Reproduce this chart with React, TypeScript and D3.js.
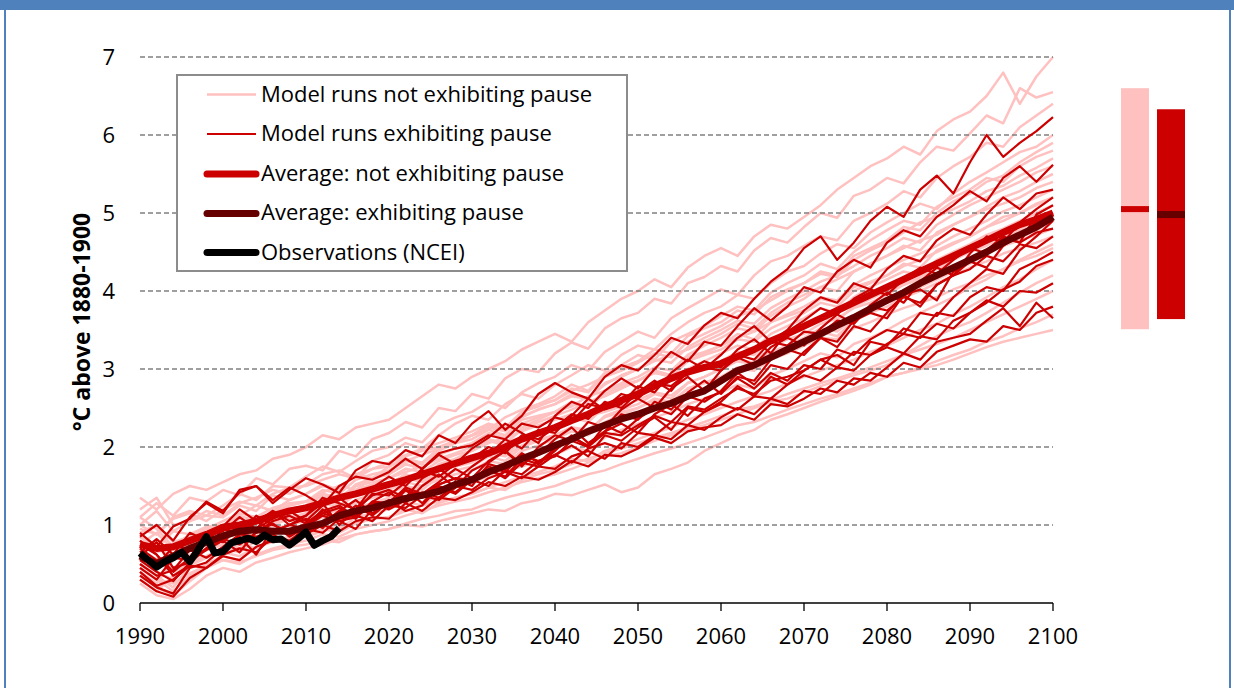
import React from "react";
import * as d3 from "d3";

// Years of the model runs (every 2nd year) and of the observations
const runYears: number[] = d3.range(1990, 2101, 2);
const obsYears: number[] = d3.range(1990, 2015);
const xTickValues = [1990, 2000, 2010, 2020, 2030, 2040, 2050, 2060, 2070, 2080, 2090, 2100];
const yTickValues = [0, 1, 2, 3, 4, 5, 6, 7];

// Values below are in hundredths of a °C above 1880-1900
const runsNotPause: number[][] = [
  [135,120,140,150,145, 155,165,170,185,190, 200,215,210,225,230, 235,250,265,280,275, 290,300,310,325,335, 345,335,360,375,390, 400,415,405,430,445, 455,445,470,485,480, 495,510,530,545,560, 570,585,575,605,620, 630,650,680,640,675, 700],
  [110,128,112,135,130, 145,138,160,152,172, 176,170,195,188,210, 218,232,225,250,246, 268,262,288,300,296, 320,334,326,352,365, 372,390,384,410,418, 432,425,452,468,462, 482,500,494,522,530, 545,538,565,585,580, 602,625,615,660,648, 655],
  [95,88,110,118,112, 125,140,132,150,148, 162,175,168,182,195, 200,212,206,228,238, 245,258,250,270,282, 290,305,298,322,335, 348,340,365,378,390, 402,395,420,438,445, 458,470,465,490,500, 512,528,520,545,560, 572,590,585,610,625, 640],
  [120,135,100,105,118, 112,128,135,145,140, 152,165,170,160,182, 190,205,198,215,230, 240,235,255,268,262, 280,292,305,298,318, 330,325,345,360,372, 380,395,390,410,425, 432,448,460,455,475, 488,500,512,505,525, 540,552,565,578,585, 600],
  [60,45,70,82,75, 90,98,105,112,120, 125,140,132,150,160, 165,178,172,195,205, 215,222,238,248,255, 265,280,272,295,305, 318,312,335,345,355, 368,380,375,398,410, 420,435,428,450,465, 478,490,485,508,520, 530,545,540,560,572, 580],
  [85,70,92,88,95, 100,112,125,118,132, 140,150,145,165,172, 180,190,198,205,212, 220,230,225,245,255, 260,272,280,290,298, 308,320,315,335,345, 355,368,375,388,400, 410,422,418,440,452, 462,475,488,495,505, 515,528,535,548,558, 570],
  [40,25,55,62,68, 75,85,92,100,110, 115,128,122,140,145, 152,165,158,178,185, 195,208,202,225,235, 245,252,265,272,282, 290,302,298,318,330, 340,352,348,368,380, 390,405,400,425,435, 445,458,452,475,485, 495,508,520,528,540, 550],
  [100,88,108,115,105, 120,130,125,140,148, 150,158,165,160,172, 175,188,195,200,208, 215,228,222,240,248, 255,265,262,280,292, 300,310,318,325,335, 345,358,352,372,385, 395,405,415,425,435, 445,455,465,472,485, 495,505,512,520,532, 540],
  [70,55,60,75,80, 85,95,105,100,115, 120,128,138,145,152, 160,168,175,185,192, 200,210,205,222,232, 240,248,258,265,275, 285,295,290,310,320, 330,340,348,360,370, 380,392,388,408,420, 430,440,448,458,470, 480,490,502,510,520, 530],
  [50,35,20,48,70, 95,88,105,118,125, 130,142,150,145,160, 165,178,172,190,198, 205,218,212,230,238, 245,255,250,268,278, 285,295,292,310,318, 325,338,335,352,362, 372,385,380,400,410, 420,432,440,450,460, 470,482,490,500,510, 520],
  [80,65,72,60,75, 80,92,85,100,108, 110,122,118,132,140, 145,155,150,170,178, 185,195,190,210,218, 225,238,232,252,262, 272,282,290,300,310, 320,330,325,345,355, 365,378,372,392,405, 415,425,420,440,450, 460,472,480,490,500, 510],
  [65,50,45,55,68, 75,70,85,95,100, 105,112,120,128,135, 140,150,145,162,170, 175,188,182,200,208, 215,225,220,240,248, 255,268,262,282,290, 300,312,308,328,338, 345,358,365,378,385, 395,408,418,428,440, 450,458,470,478,490, 500],
  [30,15,35,50,60, 70,65,80,88,95, 100,110,105,122,128, 135,142,150,158,165, 170,182,178,195,202, 210,220,215,232,242, 250,260,255,275,282, 290,302,298,318,325, 335,348,342,362,372, 380,392,405,415,425, 435,448,458,468,478, 490],
  [90,100,78,85,95, 105,115,110,122,128, 130,140,135,150,155, 160,172,168,182,190, 195,205,212,220,228, 235,242,238,255,262, 270,280,278,295,302, 310,322,318,338,345, 355,365,362,380,390, 400,408,415,422,432, 440,450,458,465,472, 480],
  [45,30,15,35,50, 60,55,72,80,85, 90,100,95,110,115, 120,130,125,140,148, 155,162,170,175,182, 190,200,195,212,222, 230,238,245,255,262, 270,280,275,292,300, 310,320,315,332,340, 350,362,372,382,392, 405,415,428,440,450, 460],
  [55,40,30,48,58, 65,60,72,78,82, 85,92,98,102,108, 110,120,115,128,135, 140,148,155,162,168, 175,185,182,195,202, 210,218,225,235,242, 250,258,265,272,282, 290,298,305,312,322, 330,340,350,358,370, 380,392,405,415,428, 440],
  [35,20,10,28,45, 55,50,62,70,75, 80,88,85,95,100, 105,112,118,125,130, 135,142,148,155,160, 165,172,180,188,192, 200,208,215,222,228, 235,242,250,258,262, 270,278,285,292,298, 305,318,330,342,352, 360,372,385,398,410, 420],
  [70,55,40,52,60, 65,75,70,80,82, 85,95,90,102,108, 110,118,125,130,135, 140,148,145,158,165, 170,178,185,192,198, 205,212,218,225,232, 240,248,252,260,268, 275,282,288,295,302, 310,318,325,332,340, 350,360,370,380,390, 400],
  [25,10,5,18,35, 45,40,52,58,65, 70,75,82,88,92, 95,102,108,112,118, 120,128,135,140,145, 150,158,165,170,178, 185,192,198,205,212, 220,228,232,240,248, 255,262,268,275,282, 290,295,302,310,318, 325,335,342,352,360, 370],
  [45,30,25,38,48, 55,52,60,68,72, 75,80,78,88,92, 95,100,98,105,110, 115,120,118,128,132, 140,138,145,152,142, 148,165,172,180,195, 205,215,222,235,242, 250,258,265,272,280, 290,295,300,305,312, 320,328,335,340,345, 350],
  [75,90,68,80,88, 95,108,102,118,125, 130,145,140,158,165, 170,182,190,198,208, 215,225,220,238,248, 255,268,262,282,290, 300,312,308,328,340, 350,362,358,378,390, 400,412,420,432,445, 455,468,462,485,498, 510,520,530,540,552, 560],
  [85,70,60,78,82, 90,100,95,108,115, 120,128,135,140,145, 150,162,158,172,178, 185,195,190,208,215, 225,232,240,245,252, 260,270,266,282,290, 300,310,306,322,330, 340,352,348,365,375, 385,392,400,410,420, 430,438,448,455,462, 470],
  [100,118,92,105,112, 110,125,118,138,132, 140,152,145,165,160, 175,185,180,198,205, 210,222,215,235,240, 245,258,252,272,280, 285,298,292,315,322, 330,345,338,360,368, 375,390,385,405,412, 420,435,430,452,462, 470,482,495,500,512, 520],
  [40,20,30,52,70, 85,95,90,108,118, 125,138,132,152,160, 170,182,178,198,208, 215,228,222,245,252, 260,275,270,292,302, 310,325,320,342,352, 360,375,370,392,402, 410,425,420,445,455, 465,482,478,500,515, 525,540,548,565,578, 590],
  [110,95,72,88,98, 100,112,105,115,118, 120,132,125,140,145, 150,160,155,170,175, 180,192,188,202,210, 215,225,222,238,245, 250,262,258,275,282, 290,300,298,312,320, 330,340,338,352,360, 370,378,385,392,402, 410,420,428,438,445, 455],
];

const runsPause: number[][] = [
  [90,72,98,108,130, 118,142,150,128,145, 160,152,141,170,182, 178,196,188,215,205, 230,246,222,240,268, 282,270,262,290,305, 298,318,340,332,356, 372,365,390,412,428, 455,470,440,462,490, 508,495,530,548,525, 565,600,572,590,605, 623],
  [60,78,45,52,70, 95,88,104,118,100, 112,135,128,120,148, 162,150,172,190,178, 198,212,230,218,205, 240,258,250,272,288, 275,300,322,310,335, 330,355,378,362,380, 405,398,425,440,430, 462,478,470,495,510, 528,515,545,560,540, 562],
  [80,62,35,48,85, 92,110,95,118,105, 112,128,100,120,138, 145,135,160,172,158, 175,190,210,198,222, 218,240,262,248,255, 278,270,295,312,300, 318,340,355,335,350, 375,392,385,410,402, 428,445,438,465,480, 472,498,520,505,525, 530],
  [45,30,58,55,68, 80,65,92,88,76, 100,115,122,108,130, 142,128,150,165,148, 170,180,195,175,200, 215,208,232,225,248, 262,250,275,290,272, 298,315,305,328,340, 330,352,370,358,382, 398,385,412,430,420, 448,470,462,488,505, 520],
  [70,55,62,90,80, 98,120,105,92,100, 108,96,118,132,115, 128,148,140,155,172, 160,182,195,178,190, 210,225,205,220,242, 235,258,248,270,285, 268,290,285,312,325, 318,340,335,362,372, 365,395,402,388,425, 440,452,470,462,498, 510],
  [55,40,28,52,70, 82,75,90,102,85, 98,112,105,95,120, 132,118,125,148,140, 158,170,162,185,178, 195,215,200,228,218, 236,250,242,265,258, 272,295,280,305,300, 322,340,328,355,348, 372,395,380,408,420, 438,430,458,472,488, 500],
  [35,20,12,45,52, 70,85,62,95,88, 98,120,105,110,128, 122,145,135,152,160, 150,178,172,192,180, 198,212,202,220,230, 218,242,255,240,262, 270,288,275,295,285, 305,300,325,318,338, 350,345,372,368,392, 410,428,422,452,470, 490],
  [60,48,72,70,85, 82,100,95,108,118, 105,125,135,118,140, 138,155,170,162,178, 185,200,192,215,210, 225,242,236,258,250, 270,285,272,298,310, 302,325,338,320,348, 362,378,370,390,402, 395,415,430,422,440, 455,448,468,462,475, 480],
  [75,62,40,58,85, 95,88,112,100,92, 102,115,108,125,112, 130,145,128,150,142, 158,172,160,180,175, 190,202,188,215,208, 225,238,222,250,245, 258,278,265,290,280, 298,312,318,305,335, 330,352,345,372,368, 392,405,400,428,438, 450],
  [40,22,30,48,45, 62,70,65,85,80, 95,90,108,112,105, 125,122,138,132,148, 158,150,170,165,182, 190,180,198,205,198, 218,215,232,228,245, 255,248,265,262,280, 292,285,302,298,318, 328,320,342,338,362, 372,385,402,412,432, 440],
  [65,82,62,70,80, 78,98,90,105,112, 102,118,125,110,130, 128,145,138,152,160, 158,175,168,190,182, 188,208,200,218,215, 228,240,232,252,248, 262,275,268,285,290, 298,312,302,322,318, 332,345,340,358,352, 372,388,380,400,398, 410],
  [50,35,42,68,58, 72,88,85,92,100, 95,102,118,112,128, 120,132,142,135,150, 145,160,168,160,175, 172,188,195,185,205, 200,215,210,228,222, 238,250,242,262,255, 272,268,285,280,295, 290,308,302,322,330, 338,335,355,350,372, 380],
  [30,15,8,32,45, 60,55,72,80,78, 88,100,92,105,110, 108,128,118,135,132, 142,155,150,162,158, 168,182,175,190,188, 198,212,205,220,225, 228,242,235,255,252, 262,275,270,288,285, 302,320,312,335,340, 345,362,378,355,385, 365],
  [85,100,80,110,128, 115,145,150,132,148, 138,125,150,162,158, 168,185,172,192,198, 202,215,210,230,225, 238,232,255,250,268, 262,282,278,295,302, 298,318,312,335,330, 348,345,362,358,380, 375,392,385,408,420, 428,445,438,460,455, 470],
];

const avgNotPause: number[] = [75,70,72,80,88, 97,100,105,112,118, 122,128,135,140,146, 152,158,165,172,179, 186,192,200,210,218, 225,234,242,252,260, 268,278,288,296,302, 307,316,325,336,345, 355,365,375,385,395, 405,415,425,435,445, 455,465,475,485,492, 500];
const avgPause: number[] = [60,50,60,70,78, 86,92,94,92,92, 97,102,112,118,122, 128,134,138,143,152, 158,168,176,185,193, 202,210,220,228,236, 242,250,256,265,272, 285,298,305,315,325, 335,345,356,366,377, 388,398,410,420,430, 440,450,462,472,482, 495];
const observations: number[] = [64,55,46,53,58,65,53,68,85,64,66,77,80,83,79,87,81,82,74,82,91,74,80,85,96];

// Spread of 2100 values shown at right: [low, high, mean] in °C
const barNotPause = [3.51, 6.6, 5.05];
const barPause = [3.64, 6.33, 4.98];

const legendLabels = [
  "Model runs not exhibiting pause",
  "Model runs exhibiting pause",
  "Average: not exhibiting pause",
  "Average: exhibiting pause",
  "Observations (NCEI)",
];
const yAxisTitle = "°C above 1880-1900";

const PINK = "#FFC0C0";
const RED = "#CC0000";
const DARK = "#660000";
const BLUE = "#4F81BD";

export default function App() {
  const W = 1234;
  const H = 688;
  const x = d3.scaleLinear().domain([1990, 2100]).range([140, 1053]);
  const y = d3.scaleLinear().domain([0, 7]).range([603, 57]);
  const line = d3
    .line<[number, number]>()
    .x((d) => x(d[0]))
    .y((d) => y(d[1]));
  const runPath = (vals: number[]) =>
    line(vals.map((v, i) => [runYears[i], v / 100] as [number, number])) || "";
  const obsPath =
    line(observations.map((v, i) => [obsYears[i], v / 100] as [number, number])) || "";

  const legendItems = [
    { color: PINK, width: 2.5, cap: "butt" },
    { color: RED, width: 2.2, cap: "butt" },
    { color: RED, width: 7, cap: "round" },
    { color: DARK, width: 7, cap: "round" },
    { color: "#000", width: 7, cap: "round" },
  ];
  const legendLineY = [94.5, 134, 174, 213.5, 252.5];
  const legendTextY = [101.5, 141, 181, 220, 260];

  const font = '"Open Sans", "Noto Sans", sans-serif';

  return (
    <svg
      width={W}
      height={H}
      style={{ position: "absolute", left: 0, top: 0, fontFamily: font }}
    >
      <rect x={0} y={0} width={W} height={H} fill="#fff" />
      <rect x={0} y={0} width={W} height={10} fill={BLUE} />
      <rect x={4} y={0} width={2} height={H} fill={BLUE} />
      <rect x={1229} y={0} width={2} height={H} fill={BLUE} />

      {/* pink runs */}
      <g fill="none" stroke={PINK} strokeWidth={2.5} strokeLinejoin="round">
        {runsNotPause.map((r, i) => (
          <path key={i} d={runPath(r)} />
        ))}
      </g>

      {/* gridlines */}
      <g stroke="#808080" strokeWidth={1.3} strokeDasharray="5,3">
        {yTickValues
          .filter((t) => t > 0)
          .map((t) => (
            <line key={t} x1={x(1990)} x2={x(2100)} y1={y(t)} y2={y(t)} />
          ))}
      </g>

      {/* red runs */}
      <g fill="none" stroke={RED} strokeWidth={2.2} strokeLinejoin="round">
        {runsPause.map((r, i) => (
          <path key={i} d={runPath(r)} />
        ))}
      </g>

      <path d={runPath(avgNotPause)} fill="none" stroke={RED} strokeWidth={7} strokeLinejoin="round" />
      <path d={runPath(avgPause)} fill="none" stroke={DARK} strokeWidth={7} strokeLinejoin="round" />
      <path d={obsPath} fill="none" stroke="#000" strokeWidth={7} strokeLinejoin="round" />

      {/* x axis */}
      <line x1={x(1990)} x2={x(2100)} y1={y(0)} y2={y(0)} stroke="#000" strokeWidth={1.5} />
      {xTickValues.map((t) => (
        <g key={t}>
          <line x1={x(t)} x2={x(t)} y1={y(0)} y2={y(0) + 8} stroke="#000" strokeWidth={1.3} />
          <text x={x(t)} y={644} textAnchor="middle" fontSize={22} fill="#000">
            {t}
          </text>
        </g>
      ))}

      {/* y tick labels */}
      {yTickValues.map((t) => (
        <text key={t} x={115} y={y(t) + 8} textAnchor="end" fontSize={22} fill="#000">
          {t}
        </text>
      ))}

      <text
        transform="translate(90,322) rotate(-90)"
        textAnchor="middle"
        fontSize={23}
        fontWeight="bold"
        fill="#000"
      >
        {yAxisTitle}
      </text>

      {/* legend */}
      <rect x={177} y={75} width={450} height={196} fill="#fff" stroke="#8c8c8c" strokeWidth={2} />
      {legendLabels.map((lab, i) => (
        <g key={lab}>
          <line
            x1={207}
            x2={256}
            y1={legendLineY[i]}
            y2={legendLineY[i]}
            stroke={legendItems[i].color}
            strokeWidth={legendItems[i].width}
            strokeLinecap={legendItems[i].cap as any}
          />
          <text x={261} y={legendTextY[i]} fontSize={22} fill="#000">
            {lab}
          </text>
        </g>
      ))}

      {/* right-side bars of 2100 spread */}
      <rect x={1121} y={y(barNotPause[1])} width={28} height={y(barNotPause[0]) - y(barNotPause[1])} fill={PINK} />
      <rect x={1121} y={y(barNotPause[2]) - 3} width={28} height={6} fill={RED} />
      <rect x={1157} y={y(barPause[1])} width={28} height={y(barPause[0]) - y(barPause[1])} fill={RED} />
      <rect x={1157} y={y(barPause[2]) - 3.5} width={28} height={7} fill={DARK} />
    </svg>
  );
}
